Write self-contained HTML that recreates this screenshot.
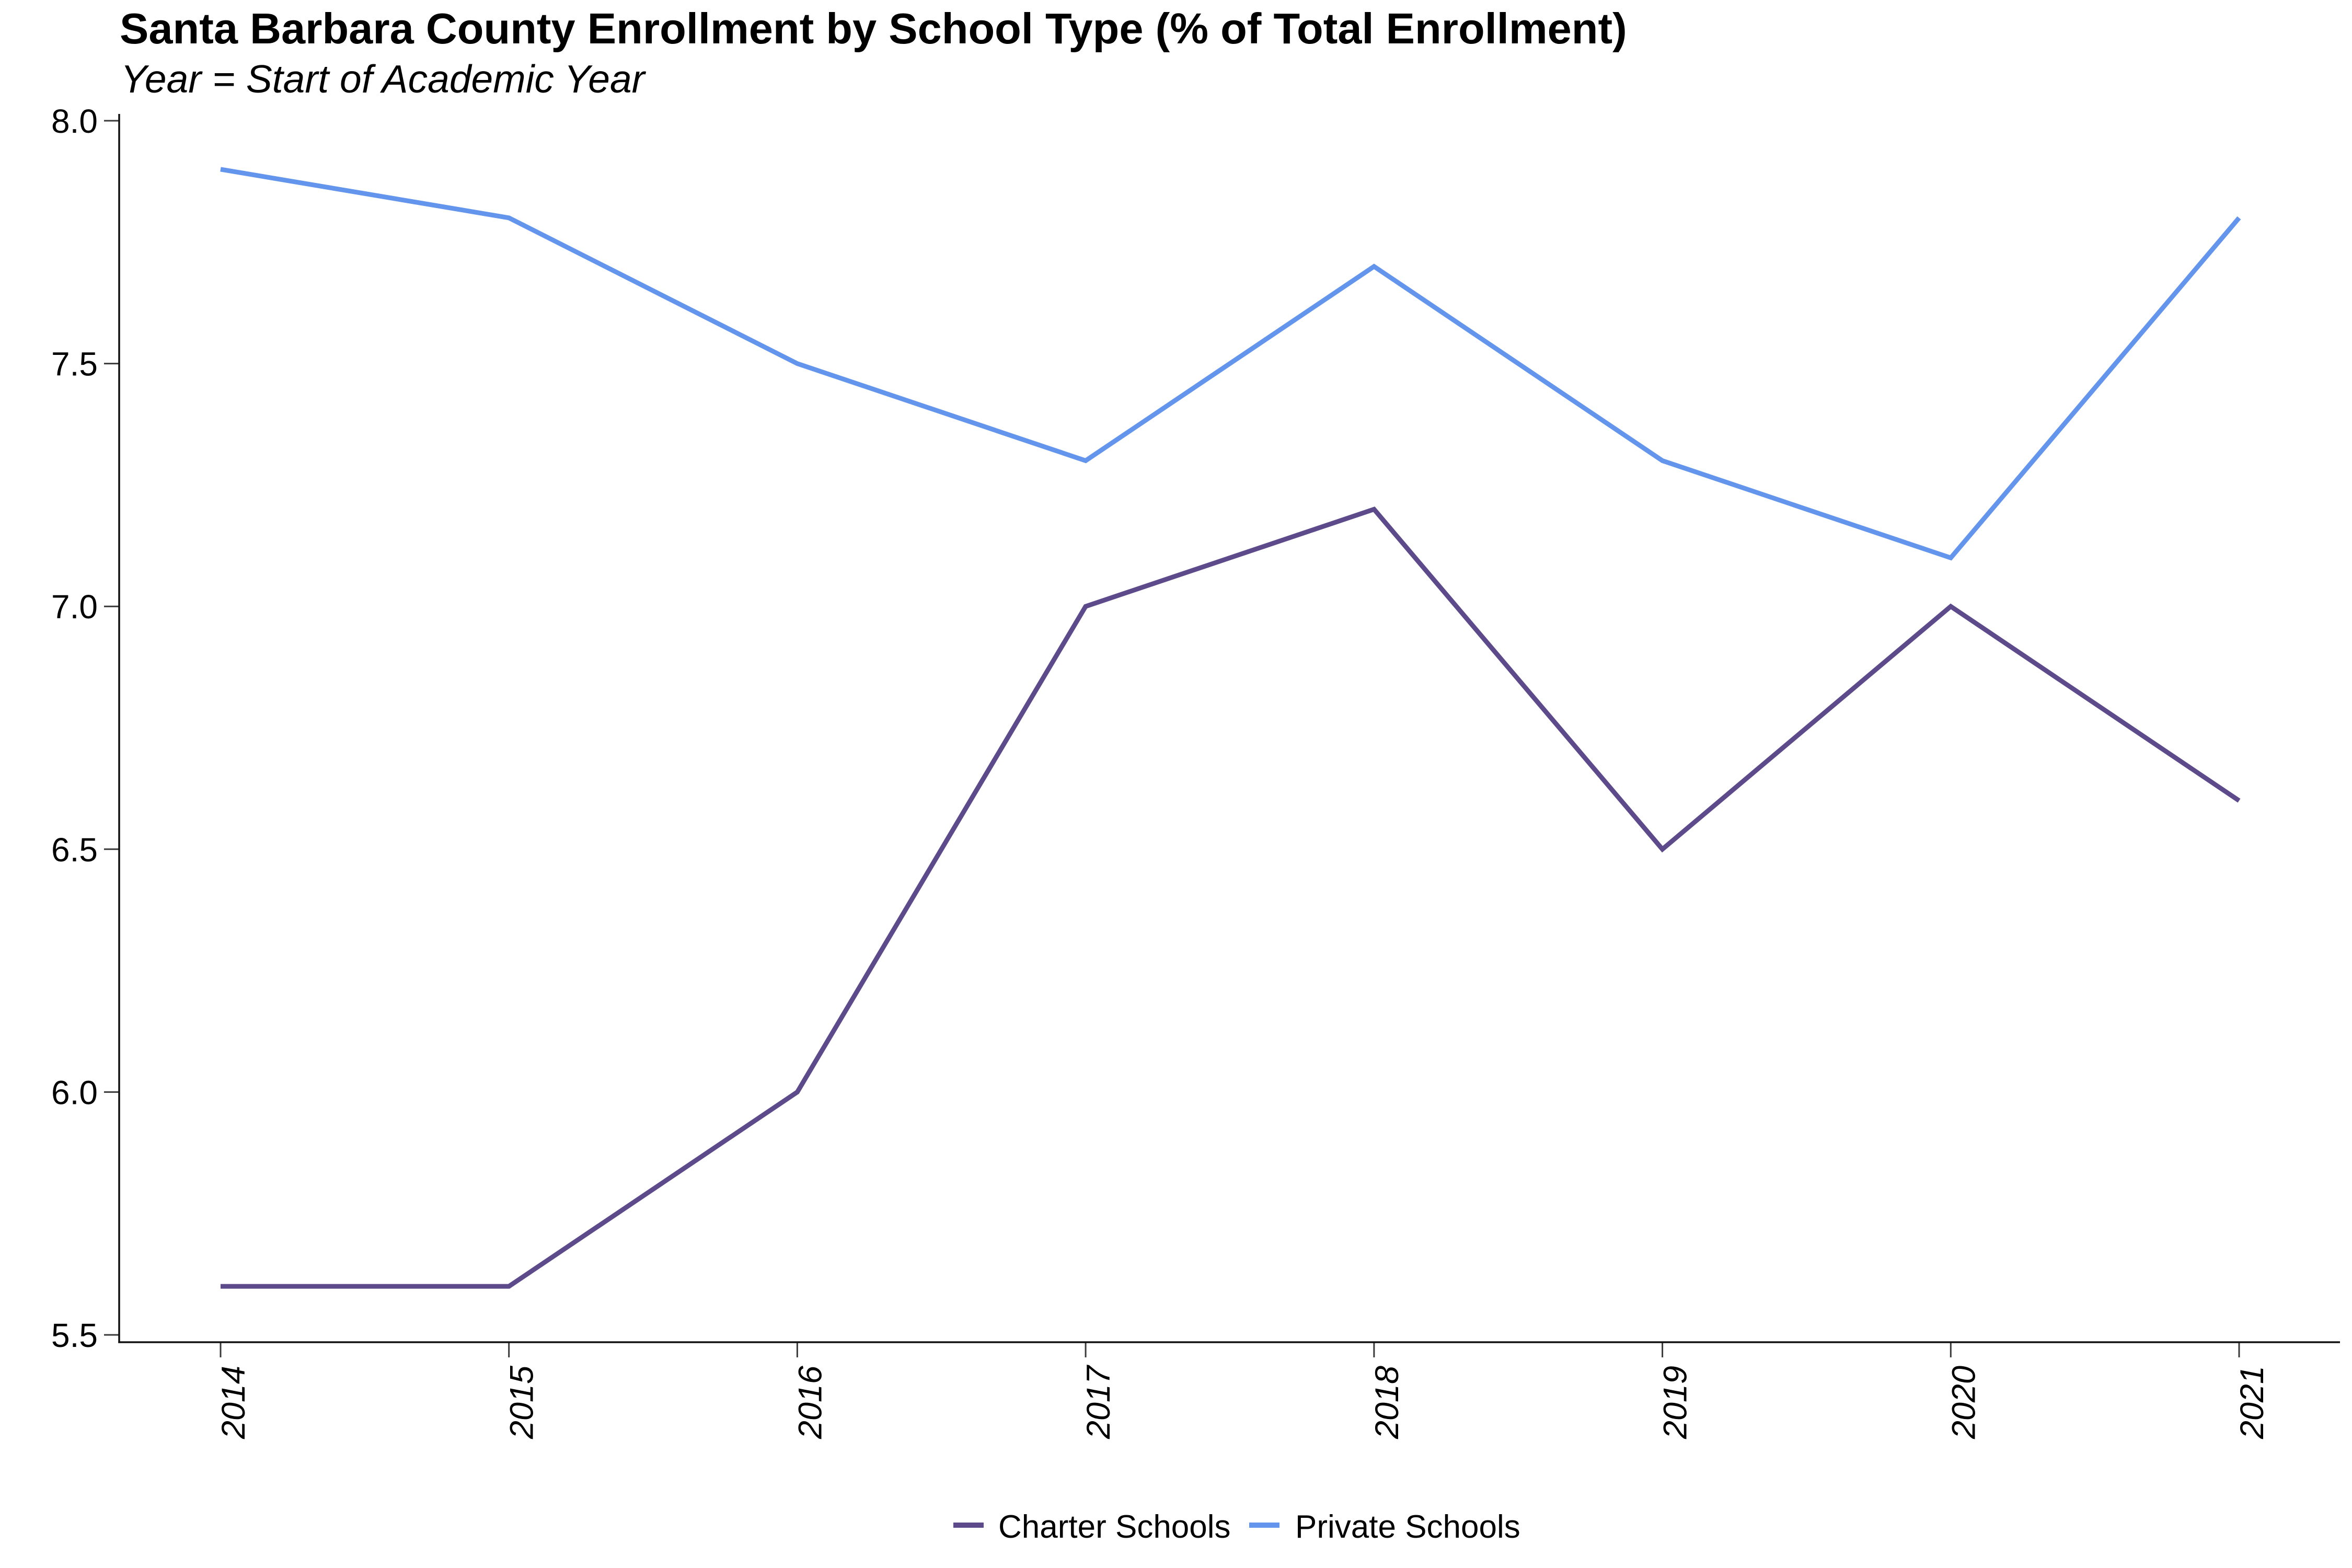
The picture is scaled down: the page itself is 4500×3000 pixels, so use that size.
<!DOCTYPE html>
<html>
<head>
<meta charset="utf-8">
<style>
  html, body { margin: 0; padding: 0; background: #ffffff; }
  body { width: 4500px; height: 3000px; overflow: hidden; }
  svg { display: block; }
  text { font-family: "Liberation Sans", Arial, Helvetica, sans-serif; fill: #000; }
</style>
</head>
<body>
<svg width="4500" height="3000" viewBox="0 0 4500 3000" xmlns="http://www.w3.org/2000/svg">
  <rect x="0" y="0" width="4500" height="3000" fill="#ffffff"/>

  <!-- Title -->
  <text x="229" y="83" font-size="83" font-weight="bold">Santa Barbara County Enrollment by School Type (% of Total Enrollment)</text>
  <text x="231" y="177" font-size="75" font-style="italic">Year = Start of Academic Year</text>

  <!-- Y axis ticks -->
  <g stroke="#3a3a3a" stroke-width="3">
    <line x1="199" y1="231" x2="228" y2="231"/>
    <line x1="199" y1="695.6" x2="228" y2="695.6"/>
    <line x1="199" y1="1160.2" x2="228" y2="1160.2"/>
    <line x1="199" y1="1624.8" x2="228" y2="1624.8"/>
    <line x1="199" y1="2089.4" x2="228" y2="2089.4"/>
    <line x1="199" y1="2554" x2="228" y2="2554"/>
  </g>
  <g font-size="64" text-anchor="end">
    <text x="187" y="254">8.0</text>
    <text x="187" y="718.6">7.5</text>
    <text x="187" y="1183.2">7.0</text>
    <text x="187" y="1647.8">6.5</text>
    <text x="187" y="2112.4">6.0</text>
    <text x="187" y="2577">5.5</text>
  </g>

  <!-- X axis ticks -->
  <g stroke="#3a3a3a" stroke-width="3">
    <line x1="422" y1="2568" x2="422" y2="2597"/>
    <line x1="973.7" y1="2568" x2="973.7" y2="2597"/>
    <line x1="1525.4" y1="2568" x2="1525.4" y2="2597"/>
    <line x1="2077.1" y1="2568" x2="2077.1" y2="2597"/>
    <line x1="2628.9" y1="2568" x2="2628.9" y2="2597"/>
    <line x1="3180.6" y1="2568" x2="3180.6" y2="2597"/>
    <line x1="3732.3" y1="2568" x2="3732.3" y2="2597"/>
    <line x1="4284" y1="2568" x2="4284" y2="2597"/>
  </g>
  <g font-size="63" font-style="italic" text-anchor="end">
    <text transform="translate(468,2613) rotate(-90)">2014</text>
    <text transform="translate(1019.7,2613) rotate(-90)">2015</text>
    <text transform="translate(1571.4,2613) rotate(-90)">2016</text>
    <text transform="translate(2123.1,2613) rotate(-90)">2017</text>
    <text transform="translate(2674.9,2613) rotate(-90)">2018</text>
    <text transform="translate(3226.6,2613) rotate(-90)">2019</text>
    <text transform="translate(3778.3,2613) rotate(-90)">2020</text>
    <text transform="translate(4330,2613) rotate(-90)">2021</text>
  </g>

  <!-- Axis domain lines -->
  <g stroke="#111111" stroke-width="3.5" fill="none">
    <line x1="228" y1="218" x2="228" y2="2569.5"/>
    <line x1="226.3" y1="2568" x2="4477" y2="2568"/>
  </g>

  <!-- Series -->
  <polyline fill="none" stroke="#6495ED" stroke-width="9" stroke-linejoin="miter" stroke-linecap="butt"
    points="422,323.9 973.7,416.8 1525.4,695.6 2077.1,881.4 2628.9,509.8 3180.6,881.4 3732.3,1067.3 4284,416.8"/>
  <polyline fill="none" stroke="#5c4a8b" stroke-width="9" stroke-linejoin="miter" stroke-linecap="butt"
    points="422,2461.1 973.7,2461.1 1525.4,2089.4 2077.1,1160.2 2628.9,974.4 3180.6,1624.8 3732.3,1160.2 4284,1531.9"/>

  <!-- Legend -->
  <rect x="1824" y="2913" width="58" height="10" fill="#5c4a8b"/>
  <text x="1910" y="2942" font-size="62">Charter Schools</text>
  <rect x="2390" y="2913" width="58" height="10" fill="#6495ED"/>
  <text x="2478" y="2942" font-size="62">Private Schools</text>
</svg>
</body>
</html>
